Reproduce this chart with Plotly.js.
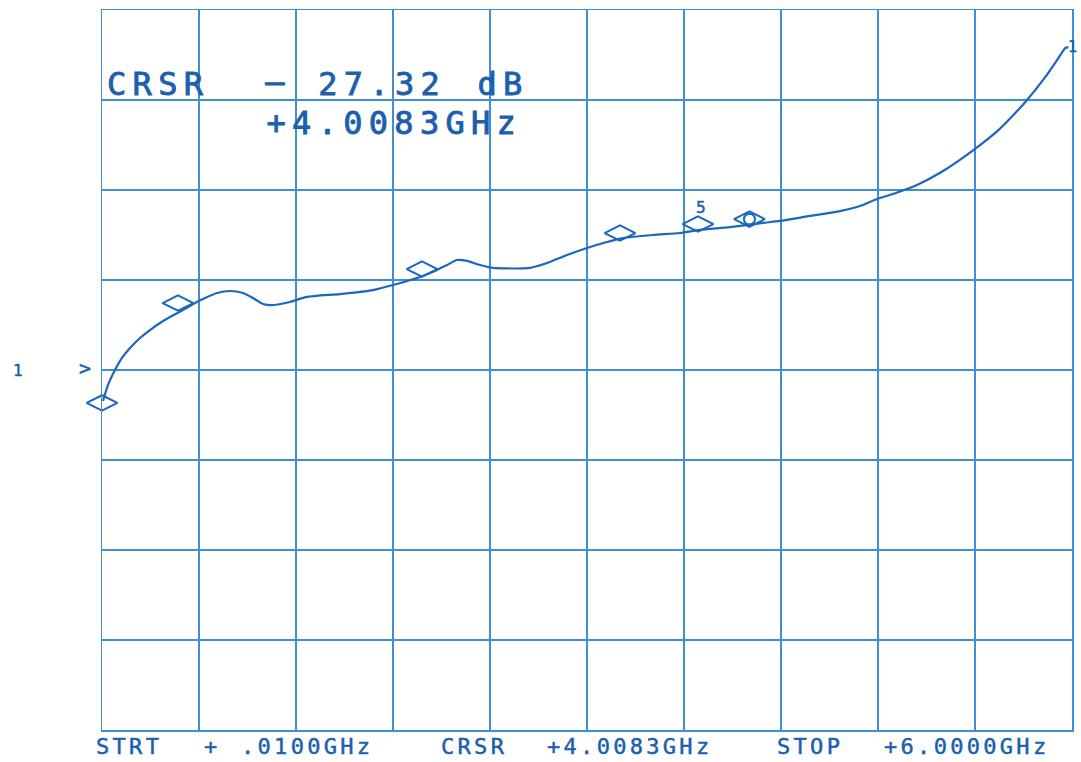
<!DOCTYPE html>
<html>
<head>
<meta charset="utf-8">
<script src="https://cdn.plot.ly/plotly-3.0.1.min.js"></script>
<style>
html,body{margin:0;padding:0;background:#fff;}
#chart{width:1081px;height:762px;}
.annotation-text{letter-spacing:0.15em;}
</style>
</head>
<body>
<div id="chart"></div>
<script>
const freqGHz = [0.0162,0.0471,0.0903,0.1335,0.1829,0.2447,0.3064,0.3682,0.4299,0.5102,
  0.5843,0.6460,0.7201,0.8004,0.8807,0.9424,1.0042,1.0659,1.1709,1.2759,
  1.4797,1.6835,1.8070,1.9737,2.0787,2.1404,2.2022,2.2639,2.3442,2.4245,
  2.6530,2.7580,2.8815,3.0050,3.1285,3.2273,3.4126,3.5793,3.7028,3.8881,
  4.0919,4.1968,4.3821,4.5674,4.6909,4.7959,4.8947,5.0429,5.1935,5.3910,
  5.5455,5.6381,5.7122,5.8357,5.9160,5.9592,5.9777];
const responseDb = [-37.42,-36.53,-35.70,-35.03,-34.48,-33.92,-33.48,-33.09,-32.76,-32.37,
  -31.98,-31.70,-31.42,-31.31,-31.42,-31.70,-32.03,-32.09,-31.92,-31.64,
  -31.48,-31.26,-30.98,-30.53,-30.14,-29.87,-29.59,-29.64,-29.87,-30.03,
  -30.03,-29.76,-29.31,-28.92,-28.59,-28.37,-28.20,-28.09,-27.92,-27.76,
  -27.53,-27.42,-27.14,-26.87,-26.59,-26.20,-25.92,-25.42,-24.70,-23.48,
  -22.37,-21.53,-20.81,-19.42,-18.37,-17.81,-17.76];

// Frequency markers
const markerFreqGHz = [0.0100,0.4793,1.9861,3.2088,3.6905];
const markerDb = [-37.53,-31.98,-30.09,-28.09,-27.59];
const markerLabels = ["","","","","5"];

// Active cursor
const cursorFreqGHz = [4.0083];
const cursorDb = [-27.32];

// Axis settings
const startGHz = 0.01, stopGHz = 6.0;
const bottomDb = -55.7, dbPerDiv = 5, yDivs = 8, xDivs = 10;

// Texts
const cursorTexts = ["CRSR", "\u2013", "27.32", "dB", "+4.0083GHz"];
const footerTexts = ["STRT", "+", ".0100GHz", "CRSR", "+4.0083GHz", "STOP", "+6.0000GHz"];

const ink = "#1c5fae";
const gridCol = "#3f8fd6";
const traceCol = "#1a67bd";

const traces = [
  {x: freqGHz, y: responseDb, mode: "lines", type: "scatter",
   line: {color: traceCol, width: 2.2, shape: "spline", smoothing: 0.6}, hoverinfo: "skip"},
  {x: markerFreqGHz, y: markerDb, mode: "markers", type: "scatter", cliponaxis: false,
   marker: {symbol: "diamond-wide-open", size: 22, color: traceCol, line: {width: 2, color: traceCol}}},
  {x: cursorFreqGHz, y: cursorDb, mode: "markers", type: "scatter", cliponaxis: false,
   marker: {symbol: "diamond-wide-open", size: 22, color: traceCol, line: {width: 2, color: traceCol}}},
  {x: cursorFreqGHz, y: cursorDb, mode: "markers", type: "scatter", cliponaxis: false,
   marker: {symbol: "circle-open", size: 11, color: traceCol, line: {width: 2, color: traceCol}}}
];

const L = 102, T = 10, W = 970, H = 720;
function px(p){ return (p - L) / W; }
function py(p){ return (T + H - p) / H; }

const annotations = [];
function addText(text, x, y, size, anchor) {
  annotations.push({text: text, xref: "paper", yref: "paper", x: px(x), y: py(y),
    xanchor: anchor || "left", yanchor: "middle", showarrow: false, borderpad: 0,
    font: {family: "DejaVu Sans Mono", size: size, color: ink}});
}
addText(cursorTexts[0], 109, 84, 32);
addText(cursorTexts[1], 265, 82, 32);
addText(cursorTexts[2], 321, 84, 32);
addText(cursorTexts[3], 478, 84, 32);
addText(cursorTexts[4], 273, 123, 32);

const footX = [95, 203, 240, 440, 546, 776, 883];
footerTexts.forEach((t, i) => addText(t, footX[i], 746, 22));

// marker label "5"
markerLabels.forEach((t, i) => {
  if (t) annotations.push({text: t, x: markerFreqGHz[i], y: markerDb[i], xref: "x", yref: "y",
    yshift: 17, xshift: 4, showarrow: false, font: {family: "DejaVu Sans Mono", size: 16, color: ink}});
});
// channel / reference indicators
addText("1", 12, 370, 16);
addText(">", 78, 368, 20);
addText("1", 1080, 47, 15, "right");

const layout = {
  width: 1081, height: 762,
  margin: {l: L, r: 1081 - L - W, t: T, b: 762 - T - H, pad: 0},
  paper_bgcolor: "#ffffff", plot_bgcolor: "#ffffff",
  showlegend: false,
  xaxis: {range: [startGHz, stopGHz], tick0: startGHz, dtick: (stopGHz - startGHz) / xDivs,
    showgrid: true, gridcolor: gridCol, gridwidth: 1.5, zeroline: false,
    showline: true, linecolor: gridCol, linewidth: 1.5, mirror: true,
    showticklabels: false, ticks: "", fixedrange: true},
  yaxis: {range: [bottomDb, bottomDb + dbPerDiv * yDivs], tick0: bottomDb, dtick: dbPerDiv,
    showgrid: true, gridcolor: gridCol, gridwidth: 1.5, zeroline: false,
    showline: true, linecolor: gridCol, linewidth: 1.5, mirror: true,
    showticklabels: false, ticks: "", fixedrange: true},
  annotations: annotations
};

Plotly.newPlot("chart", traces, layout, {displayModeBar: false, staticPlot: true}).then(() => {
  document.querySelectorAll("#chart .annotation-text").forEach(el => {
    const fs = parseFloat(el.style.fontSize || "0");
    if (fs >= 30) el.style.letterSpacing = "6.3px";
    el.style.stroke = ink;
    el.style.strokeWidth = fs >= 30 ? "0.9px" : "0.5px";
  });
});
</script>
</body>
</html>
